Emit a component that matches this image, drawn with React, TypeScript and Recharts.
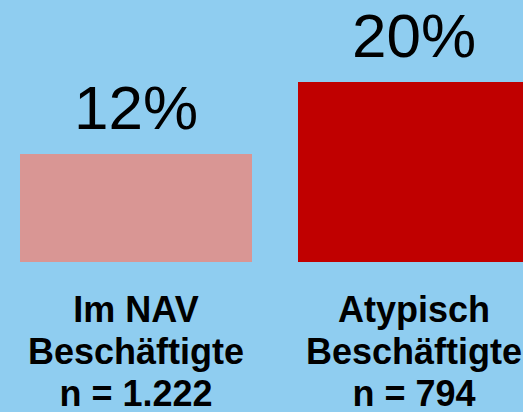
import { BarChart, Bar, XAxis, YAxis, Cell, LabelList } from "recharts";

const categories = ["Im NAV|Beschäftigte|n = 1.222", "Atypisch|Beschäftigte|n = 794"];
const shares = [12, 20];
const barColors = ["#D99694", "#C00000"];

const BG = "#8FCDF0";
const FONT = "'Liberation Sans', Arial, sans-serif";

const data = categories.map((c, i) => ({ name: c, value: shares[i] }));

function CategoryTick({ x, y, payload }: any) {
  const lines = String(payload.value).split("|");
  return (
    <g>
      {lines.map((line, i) => (
        <text
          key={i}
          x={x}
          y={y + 60 + i * 42}
          textAnchor="middle"
          fontFamily={FONT}
          fontWeight="bold"
          fontSize={36}
          fill="#000"
        >
          {line}
        </text>
      ))}
    </g>
  );
}

function PercentLabel({ x, y, width, value }: any) {
  return (
    <text
      x={x + width / 2}
      y={y - 25}
      textAnchor="middle"
      fontFamily={FONT}
      fontSize={62}
      fill="#000"
    >
      {value}%
    </text>
  );
}

export default function App() {
  return (
    <div style={{ width: 523, height: 412, overflow: "hidden", background: BG, position: "relative" }}>
      <style>{`body{margin:0}`}</style>
      <div style={{ position: "absolute", left: -3, top: 0 }}>
        <BarChart
          width={556}
          height={412}
          data={data}
          margin={{ top: 10, right: 0, left: 0, bottom: 0 }}
        >
          <XAxis
            dataKey="name"
            axisLine={false}
            tickLine={false}
            tickSize={0}
            tickMargin={0}
            height={150}
            interval={0}
            tick={<CategoryTick />}
          />
          <YAxis hide domain={[0, 28]} />
          <Bar dataKey="value" barSize={232} isAnimationActive={false}>
            {data.map((d, i) => (
              <Cell key={d.name} fill={barColors[i]} />
            ))}
            <LabelList dataKey="value" content={<PercentLabel />} />
          </Bar>
        </BarChart>
      </div>
    </div>
  );
}
